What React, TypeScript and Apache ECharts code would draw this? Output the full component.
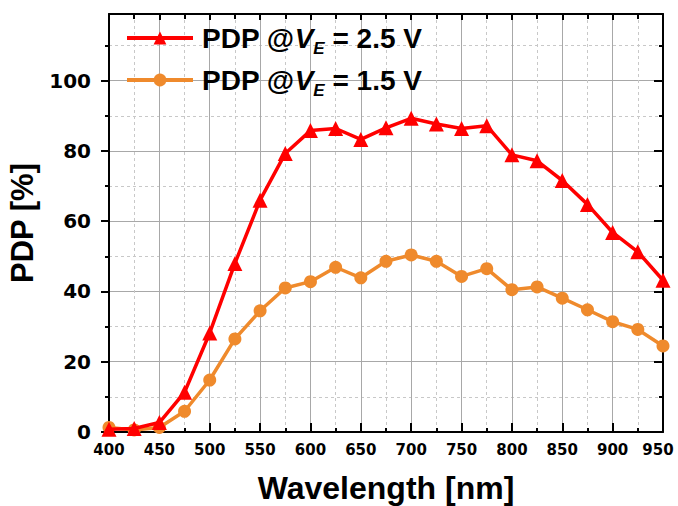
import React, { useEffect, useRef } from "react";
import * as echarts from "echarts";

const wavelengths = [400, 425, 450, 475, 500, 525, 550, 575, 600, 625, 650, 675, 700, 725, 750, 775, 800, 825, 850, 875, 900, 925, 950];
const pdp25 = [0.8, 1.0, 2.7, 11.3, 28.2, 48.0, 66.0, 79.3, 85.8, 86.4, 83.3, 86.6, 89.3, 87.7, 86.4, 87.2, 78.9, 77.2, 71.6, 64.8, 56.8, 51.3, 43.2];
const pdp15 = [1.3, 0.6, 1.3, 5.9, 14.8, 26.5, 34.5, 41.0, 42.8, 46.9, 43.9, 48.6, 50.4, 48.6, 44.3, 46.5, 40.5, 41.3, 38.1, 34.8, 31.4, 29.2, 24.5];
const yTickValues = [0, 20, 40, 60, 80, 100];
const seriesNames = ["PDP @VE = 2.5 V", "PDP @VE = 1.5 V"];
const legendVoltages = ["2.5", "1.5"];

const RED = "#ff0000";
const ORANGE = "#ef8a2c";
const SANS = "'Liberation Sans', Arial, sans-serif";
const TICKFONT = "'DejaVu Sans', sans-serif";

export default function App() {
  const ref = useRef<HTMLDivElement>(null);
  useEffect(() => {
    if (!ref.current) return;
    const chart = echarts.init(ref.current, null, { renderer: "svg" });
    const rich = {
      a: { fontFamily: SANS, fontSize: 28, fontWeight: "bold", color: "#000" },
      i: { fontFamily: SANS, fontSize: 28, fontWeight: "bold", fontStyle: "italic", color: "#000" },
      s: { fontFamily: SANS, fontSize: 17, fontWeight: "bold", fontStyle: "italic", color: "#000", padding: [20, 0, 0, 0] },
    };
    const legendFor = (idx: number, top: number) => ({
      data: [seriesNames[idx]],
      left: 120,
      top,
      orient: "vertical",
      itemWidth: 66,
      itemHeight: 16,
      selectedMode: false,
      lineStyle: { width: 4 },
      formatter: () => `{a|PDP @}{i|V}{s|E}{a| = ${legendVoltages[idx]} V}`,
      textStyle: { rich, padding: [0, 0, 0, 4] },
    });
    const minorSplit = { show: true, lineStyle: { color: "#c8c8c8", type: [3, 3], width: 1 } };
    const split = { show: true, lineStyle: { color: "#a8a8a8", width: 1 } };
    const axisLine = { show: true, onZero: false, lineStyle: { color: "#000", width: 2 } };
    const xLabelStyle = { fontFamily: TICKFONT, fontSize: 15, fontWeight: "bold", color: "#000" };
    chart.setOption({
      animation: false,
      backgroundColor: "#fff",
      grid: { left: 109, right: 15, top: 14, bottom: 74, containLabel: false, outerBoundsMode: "none" },
      legend: [legendFor(0, 19), legendFor(1, 61)],
      xAxis: [
        {
          type: "value",
          position: "bottom",
          min: 400,
          max: 950,
          interval: 50,
          axisLine,
          axisTick: { show: true, inside: true, length: 9, lineStyle: { color: "#000", width: 2 } },
          minorTick: { show: true, splitNumber: 2, length: 4, lineStyle: { color: "#000", width: 2 } },
          splitLine: split,
          minorSplitLine: minorSplit,
          axisLabel: {
            ...xLabelStyle,
            margin: 10,
            formatter: (v: number) => (v === 950 ? `{e|${v}}` : `${v}`),
            rich: { e: { ...xLabelStyle, padding: [0, 10, 0, 0] } },
          },
          name: "Wavelength [nm]",
          nameLocation: "middle",
          nameGap: 40,
          nameTextStyle: { fontFamily: SANS, fontSize: 32, fontWeight: "bold", color: "#000" },
        },
        {
          type: "value",
          position: "top",
          min: 400,
          max: 950,
          interval: 50,
          axisLine,
          axisTick: { show: true, inside: true, length: 6, lineStyle: { color: "#000", width: 2 } },
          minorTick: { show: true, splitNumber: 2, length: 5, lineStyle: { color: "#000", width: 2 } },
          splitLine: { show: false },
          axisLabel: { show: false },
        },
      ],
      yAxis: [
        {
          type: "value",
          position: "left",
          min: 0,
          max: 119,
          interval: 20,
          axisLine,
          axisTick: { show: true, inside: false, length: 8, customValues: yTickValues, lineStyle: { color: "#000", width: 2 } },
          minorTick: { show: true, splitNumber: 2, length: 4, lineStyle: { color: "#000", width: 2 } },
          splitLine: split,
          minorSplitLine: minorSplit,
          axisLabel: { fontFamily: TICKFONT, fontSize: 20, fontWeight: "bold", color: "#000", margin: 18, customValues: yTickValues },
          name: "PDP [%]",
          nameLocation: "middle",
          nameGap: 70,
          nameTextStyle: { fontFamily: SANS, fontSize: 31, fontWeight: "bold", color: "#000" },
        },
        {
          type: "value",
          position: "right",
          min: 0,
          max: 119,
          interval: 20,
          axisLine,
          axisTick: { show: true, inside: true, length: 9, customValues: yTickValues, lineStyle: { color: "#000", width: 2 } },
          minorTick: { show: true, splitNumber: 2, length: 4, lineStyle: { color: "#000", width: 2 } },
          splitLine: { show: false },
          axisLabel: { show: false },
        },
      ],
      series: [
        {
          name: seriesNames[1],
          type: "line",
          xAxisIndex: 0,
          yAxisIndex: 0,
          data: wavelengths.map((w, i) => [w, pdp15[i]]),
          symbol: "circle",
          symbolSize: 13,
          z: 2,
          lineStyle: { color: ORANGE, width: 3.5 },
          itemStyle: { color: ORANGE },
          clip: true,
        },
        {
          name: seriesNames[0],
          type: "line",
          xAxisIndex: 0,
          yAxisIndex: 0,
          data: wavelengths.map((w, i) => [w, pdp25[i]]),
          symbol: "triangle",
          symbolSize: 15,
          z: 3,
          lineStyle: { color: RED, width: 3.5 },
          itemStyle: { color: RED },
          clip: true,
        },
      ],
    });
    return () => chart.dispose();
  }, []);
  return <div ref={ref} style={{ position: "fixed", left: 0, top: 0, width: 678, height: 506 }} />;
}
